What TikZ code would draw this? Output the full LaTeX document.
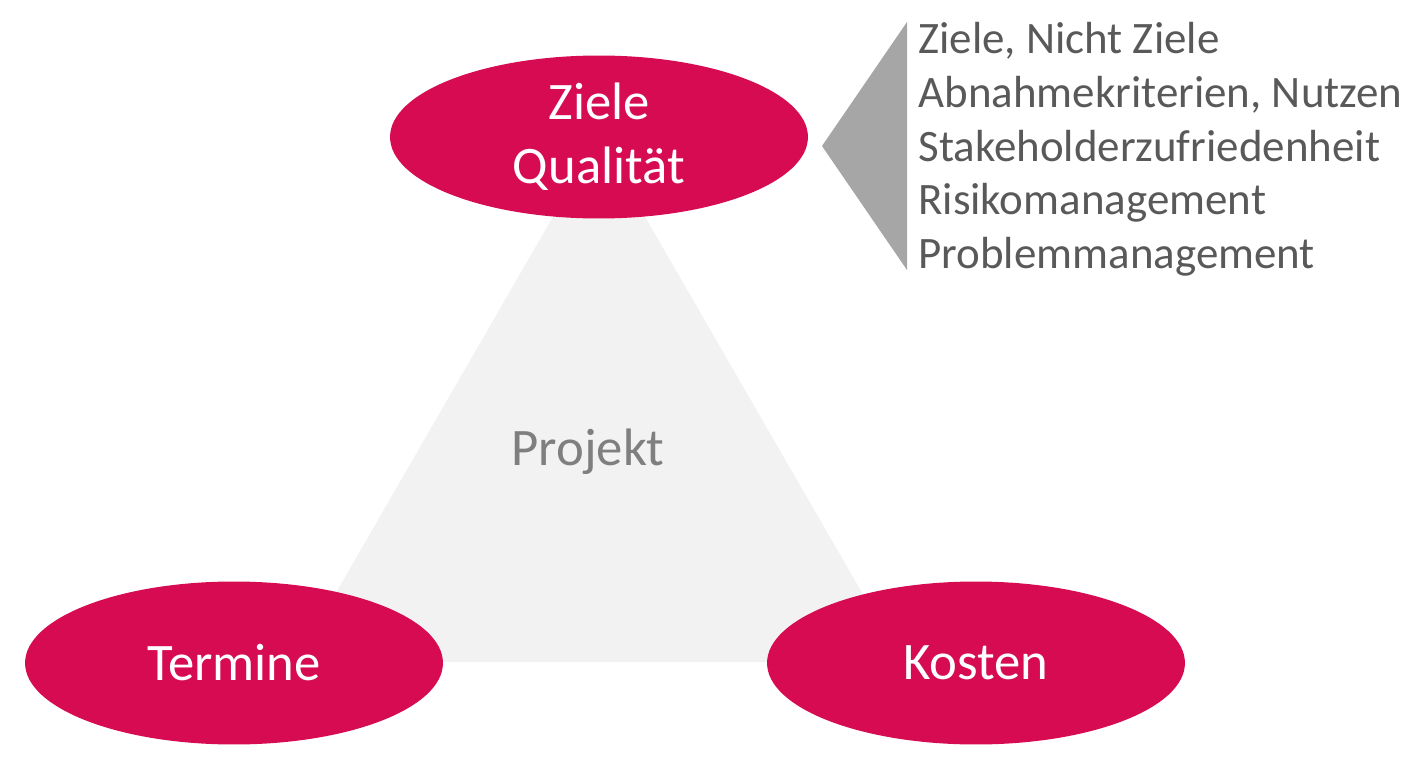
\documentclass[tikz,border=0pt]{standalone}
\usepackage{fontspec}
\setmainfont{Carlito}
\usetikzlibrary{shapes.geometric}
\definecolor{magenta}{HTML}{D60B51}
\definecolor{lightgrey}{HTML}{F2F2F2}
\definecolor{wedgegrey}{HTML}{A6A6A6}
\definecolor{textgrey}{HTML}{595959}
\definecolor{projgrey}{HTML}{7F7F7F}
\tikzset{
  corner/.style={ellipse, fill=magenta, text=white, minimum width=8.36cm, minimum height=3.26cm,
    inner sep=0pt, align=center, font=\fontsize{30}{36.5}\selectfont},
}
\begin{document}
\begin{tikzpicture}[x=0.02cm, y=-0.02cm]
    \useasboundingbox (0,0) rectangle (1418,767);
    \fill[lightgrey] (599,137) -- (902,662) -- (296,662) -- cycle;
    \node[text=projgrey, font=\fontsize{30}{36}\selectfont] (proj) at (588,452) {Projekt};
    \node[corner] (ziele) at (599,137) {Ziele\\Qualität};
    \node[corner] (termine) at (234,663) {Termine};
    \node[corner] (kosten) at (976,663) {Kosten};
    \fill[wedgegrey] (822,146) -- (907,22) -- (907,270) -- cycle;
    \node[anchor=north west, align=left, text=textgrey, inner sep=0pt,
      font=\fontsize{25.6}{30.6}\selectfont] (liste) at (918,22)
      {Ziele, Nicht Ziele\\Abnahmekriterien, Nutzen\\Stakeholderzufriedenheit\\Risikomanagement\\Problemmanagement};
  \end{tikzpicture}
\end{document}
